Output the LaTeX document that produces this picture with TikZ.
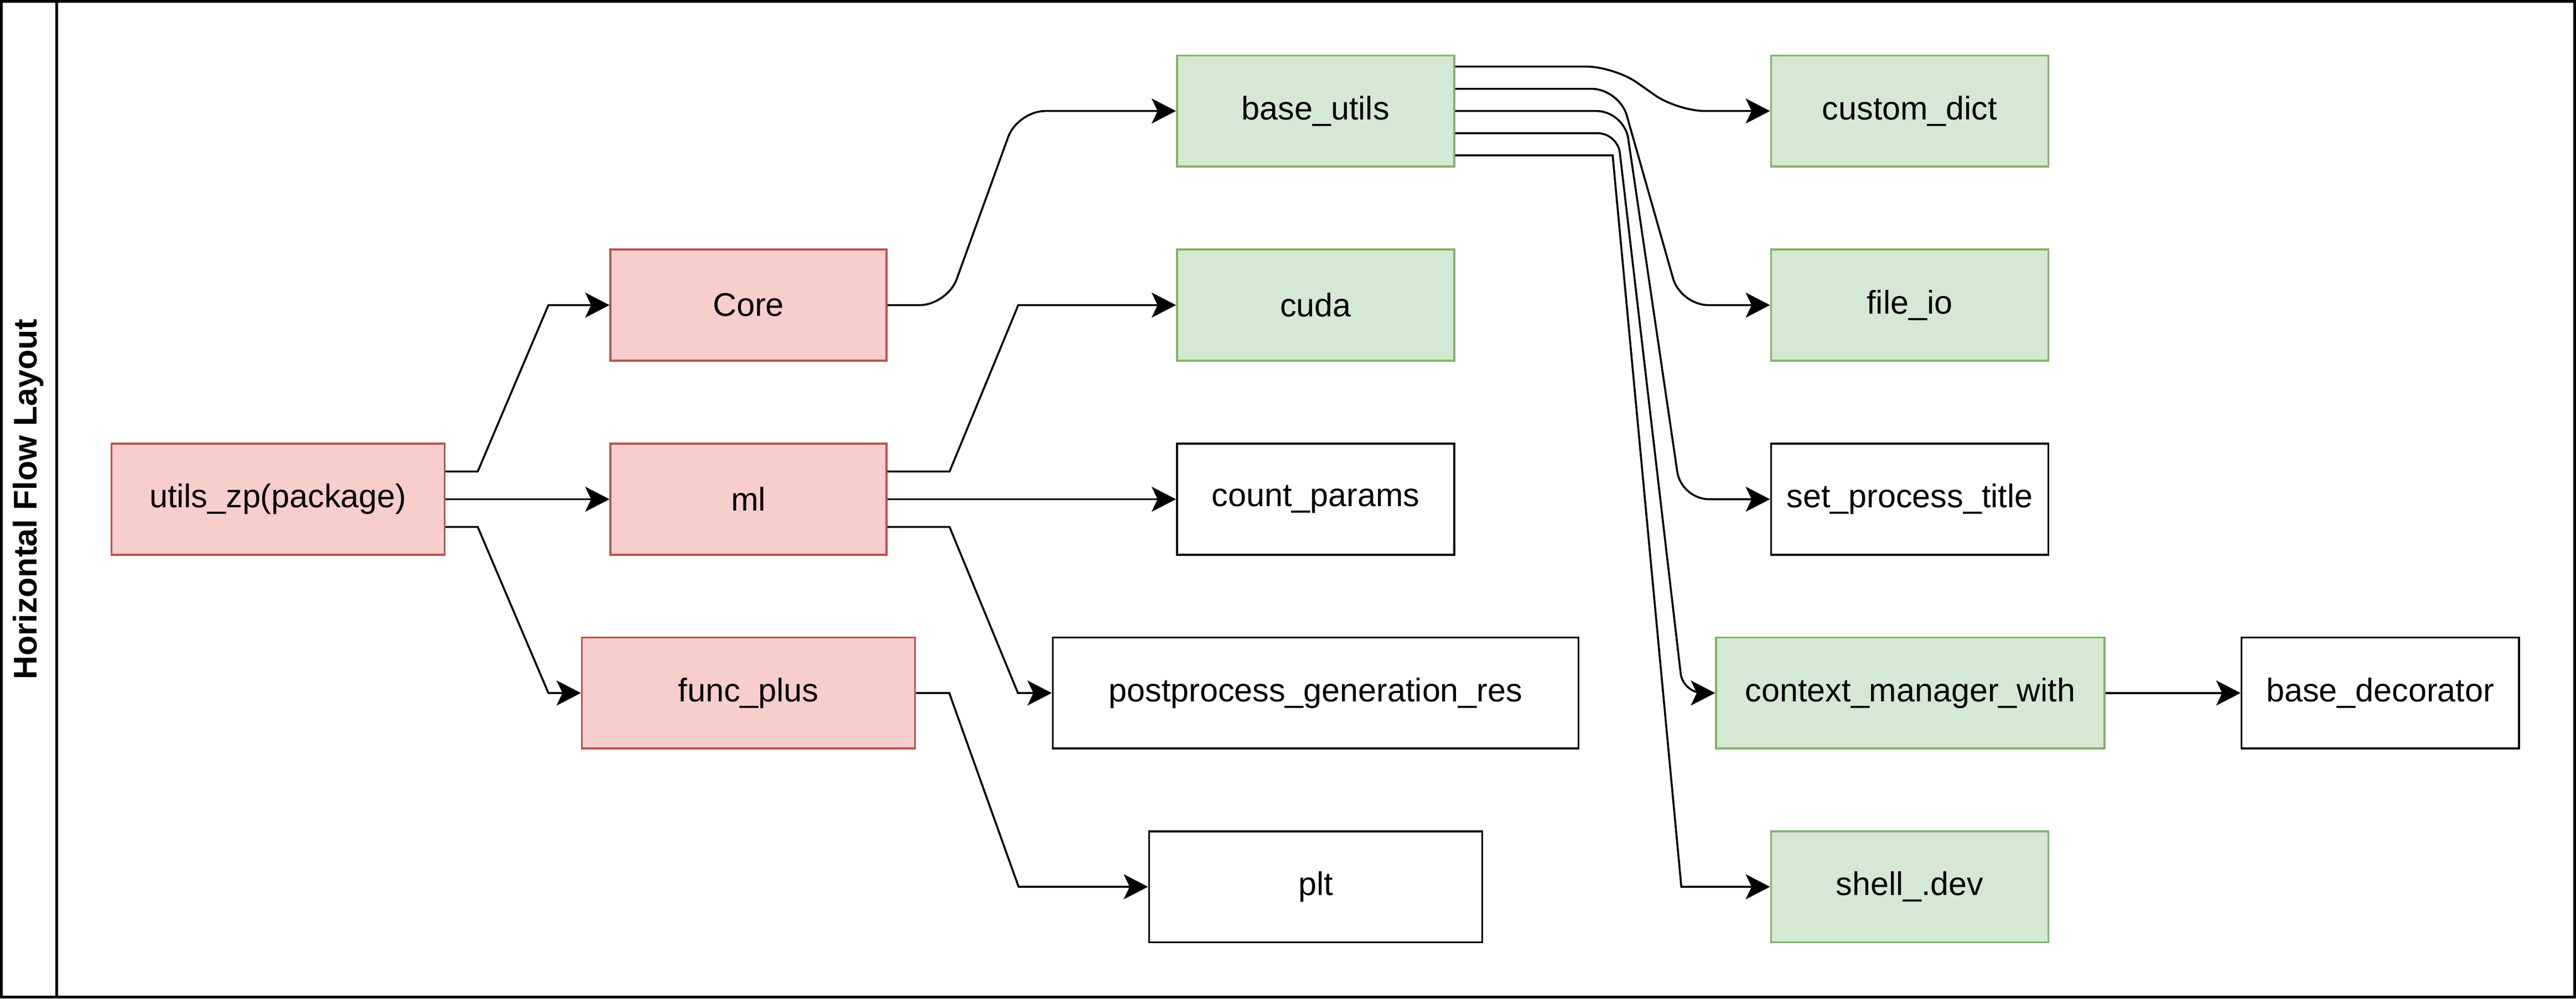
\documentclass[tikz,border=0pt]{standalone}
\usepackage{fontspec}
\setmainfont{Liberation Sans}
\usepackage{tikz}
\usetikzlibrary{arrows.meta}
\definecolor{redfill}{HTML}{F8CECC}
\definecolor{redline}{HTML}{B85450}
\definecolor{greenfill}{HTML}{D5E8D4}
\definecolor{greenline}{HTML}{82B366}

\begin{document}
\begin{tikzpicture}[
			modbox/.style={draw, minimum height=1.69cm, inner sep=0pt, line width=0.85pt, font=\fontsize{14.2}{17}\selectfont},
			pkgbox/.style={modbox, draw=redline, fill=redfill},
			utilbox/.style={modbox, draw=greenline, fill=greenfill},
			arr/.style={-{Stealth[length=3.7mm, width=3.8mm, inset=0.9mm]}, line width=0.85pt}
		]

		\useasboundingbox (0,0) rectangle (39.2,15.2);
		\draw[line width=1.2pt] (0.02,0.02) rectangle (39.18,15.18);
		\draw[line width=1.2pt] (0.8625,0.02) -- (0.8625,15.18);
		\node[rotate=90, font=\fontsize{14.2}{17}\selectfont\bfseries] (title) at (0.43,7.6) {Horizontal Flow Layout};

		\node[pkgbox, minimum width=5.07cm] (pkg) at (4.23,7.6) {utils\_zp(package)};

		\node[pkgbox, minimum width=4.2cm] (core) at (11.39,10.555) {Core};
		\node[pkgbox, minimum width=4.2cm] (ml) at (11.39,7.6) {ml};
		\node[pkgbox, minimum width=5.07cm] (funcplus) at (11.39,4.65) {func\_plus};

		\node[utilbox, minimum width=4.22cm] (baseutils) at (20.02,13.51) {base\_utils};
		\node[utilbox, minimum width=4.22cm] (cuda) at (20.02,10.555) {cuda};
		\node[modbox, minimum width=4.22cm] (countparams) at (20.02,7.6) {count\_params};
		\node[modbox, minimum width=8cm] (postproc) at (20.02,4.65) {postprocess\_generation\_res};
		\node[modbox, minimum width=5.07cm] (plt) at (20.02,1.70) {plt};

		\node[utilbox, minimum width=4.22cm] (customdict) at (29.06,13.51) {custom\_dict};
		\node[utilbox, minimum width=4.22cm] (fileio) at (29.06,10.555) {file\_io};
		\node[modbox, minimum width=4.22cm] (setproc) at (29.06,7.6) {set\_process\_title};
		\node[utilbox, minimum width=5.91cm] (ctxmgr) at (29.07,4.65) {context\_manager\_with};
		\node[utilbox, minimum width=4.22cm] (shelldev) at (29.06,1.70) {shell\_.dev};

		\node[modbox, minimum width=4.22cm] (basedeco) at (36.22,4.65) {base\_decorator};

		\draw[arr] ([yshift=4.225mm]pkg.east) -- ++(0.49,0) -- ([xshift=-0.93cm]core.west) -- (core.west);
		\draw[arr] (pkg.east) -- (ml.west);
		\draw[arr] ([yshift=-4.225mm]pkg.east) -- ++(0.49,0) -- ([xshift=-0.495cm]funcplus.west) -- (funcplus.west);

		\draw[arr, rounded corners=4.2mm] (core.east) -- ++(0.91,0) -- ([xshift=-2.41cm]baseutils.west) -- (baseutils.west);
		\draw[arr] ([yshift=4.225mm]ml.east) -- ++(0.945,0) -- ([xshift=-2.4cm]cuda.west) -- (cuda.west);
		\draw[arr] (ml.east) -- (countparams.west);
		\draw[arr] ([yshift=-4.225mm]ml.east) -- ++(0.945,0) -- ([xshift=-0.515cm]postproc.west) -- (postproc.west);
		\draw[arr] (funcplus.east) -- ++(0.505,0) -- ([xshift=-1.97cm]plt.west) -- (plt.west);

		\draw[arr, rounded corners=4.2mm] ([yshift=6.76mm]baseutils.east) -- ++(2.42,0) -- ([xshift=-1.41cm]customdict.west) -- (customdict.west);
		\draw[arr, rounded corners=4.2mm] ([yshift=3.38mm]baseutils.east) -- ++(2.495,0) -- ([xshift=-1.36cm]fileio.west) -- (fileio.west);
		\draw[arr, rounded corners=4.2mm] (baseutils.east) -- ++(2.57,0) -- ([xshift=-1.35cm]setproc.west) -- (setproc.west);
		\draw[arr, rounded corners=3mm] ([yshift=-3.38mm]baseutils.east) -- ++(2.47,0) -- ([xshift=-0.49cm]ctxmgr.west) -- (ctxmgr.west);
		\draw[arr] ([yshift=-6.76mm]baseutils.east) -- ++(2.395,0) -- ([xshift=-1.35cm]shelldev.west) -- (shelldev.west);

		\draw[arr] (ctxmgr.east) -- (basedeco.west);

	\end{tikzpicture}
\end{document}
